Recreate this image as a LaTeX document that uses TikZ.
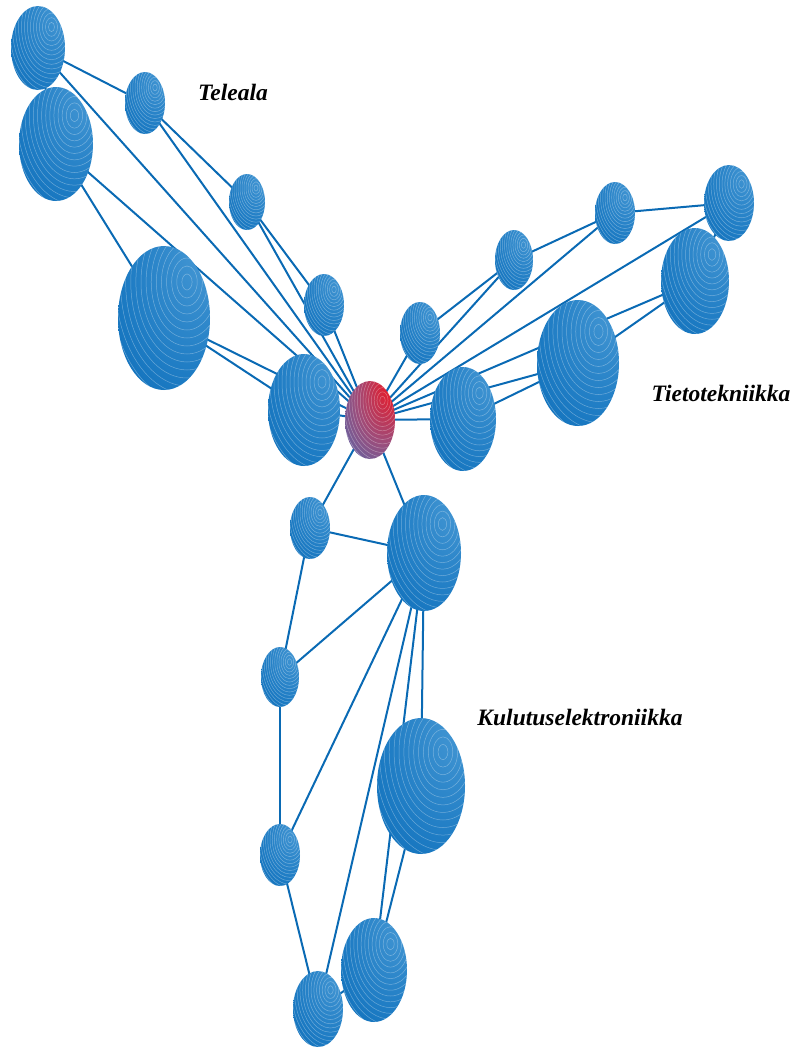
\documentclass[tikz,border=0pt]{standalone}
\usepackage{fontspec}
\setmainfont{Liberation Serif}
\definecolor{bhi}{RGB}{70,152,212}
\definecolor{bmid}{RGB}{30,124,196}
\definecolor{bdark}{RGB}{6,104,180}
\definecolor{edgec}{RGB}{10,106,180}
\definecolor{rhi}{RGB}{228,28,44}
\definecolor{rmid}{RGB}{160,75,120}
\definecolor{rlow}{RGB}{70,110,182}
\pgfdeclareradialshading{blueball}{\pgfpoint{25bp}{25bp}}{color(0bp)=(bhi); color(12bp)=(bhi!70!bmid); color(35bp)=(bmid); color(60bp)=(bdark); color(90bp)=(bdark)}
\pgfdeclareradialshading{redball}{\pgfpoint{25bp}{25bp}}{color(0bp)=(rhi); color(10bp)=(rhi!85!rmid); color(30bp)=(rmid); color(55bp)=(rlow); color(90bp)=(rlow)}
\tikzset{
  link/.style={draw=edgec, line width=2pt},
  ringline/.style={draw=white, opacity=0.33, line width=0.5pt},
  lbl/.style={font=\fontsize{23.5}{25}\selectfont\bfseries\itshape, text=black, inner sep=0pt}
}
\newcommand\myball[4]{%
  \begin{scope}
    \clip (#1) ellipse [x radius=#2pt, y radius=#3pt];
    \shade[shading=#4] (#1) ellipse [x radius=#2pt, y radius=#3pt];
    \foreach \k in {1,...,20}{
      \draw[ringline, shift={(#1)}] (0.5*#2pt,0.5*#3pt) ellipse [x radius={\k*#2/9*1pt}, y radius={\k*#3/9*1pt}];
    }
  \end{scope}}
\begin{document}
\begin{tikzpicture}[x=1pt,y=-1pt]
\useasboundingbox (0,0) rectangle (807,1050);
% node centres
\coordinate (A) at (38,48);
\coordinate (B) at (145,103);
\coordinate (C) at (56,144);
\coordinate (D) at (247,202);
\coordinate (E) at (164,318);
\coordinate (F) at (324,305);
\coordinate (G) at (304,410);
\coordinate (H) at (370,420);
\coordinate (I) at (420,333);
\coordinate (J) at (463,419);
\coordinate (K) at (514,260);
\coordinate (L) at (615,213);
\coordinate (M) at (729,203);
\coordinate (N) at (695,281);
\coordinate (O) at (578,363);
\coordinate (P) at (310,528);
\coordinate (Q) at (424,553);
\coordinate (R) at (280,677);
\coordinate (S) at (421,786);
\coordinate (T) at (280,855);
\coordinate (U) at (374,970);
\coordinate (V) at (318,1009);
% connectors
\foreach \a/\b in {A/B,A/C,A/H,B/D,B/H,D/F,D/H,F/H,C/E,C/H,E/G,E/H,G/H,
  H/I,H/K,I/K,K/L,H/L,L/M,H/M,M/N,H/N,H/O,O/N,H/J,J/O,
  H/P,H/Q,P/Q,P/R,R/Q,R/T,Q/T,Q/V,Q/U,Q/S,S/U,T/V,V/U}
  \draw[link] (\a) -- (\b);
% balls
\myball{A}{27}{42}{blueball}
\myball{C}{37}{57}{blueball}
\myball{B}{20}{31}{blueball}
\myball{D}{18}{28}{blueball}
\myball{E}{46}{72}{blueball}
\myball{F}{20}{31}{blueball}
\myball{G}{36}{56}{blueball}
\myball{I}{20}{31}{blueball}
\myball{J}{33}{52}{blueball}
\myball{K}{19}{30}{blueball}
\myball{L}{20}{31}{blueball}
\myball{M}{25}{38}{blueball}
\myball{N}{34}{53}{blueball}
\myball{O}{41}{63}{blueball}
\myball{P}{20}{31}{blueball}
\myball{Q}{37}{58}{blueball}
\myball{R}{19}{30}{blueball}
\myball{S}{44}{68}{blueball}
\myball{T}{20}{31}{blueball}
\myball{U}{33}{52}{blueball}
\myball{V}{25}{38}{blueball}
\myball{H}{25}{39}{redball}
% labels
\node[lbl] (t1) at (233,92) {Teleala};
\node[lbl] (t2) at (721,393) {Tietotekniikka};
\node[lbl] (t3) at (580,717) {Kulutuselektroniikka};
\end{tikzpicture}
\end{document}
